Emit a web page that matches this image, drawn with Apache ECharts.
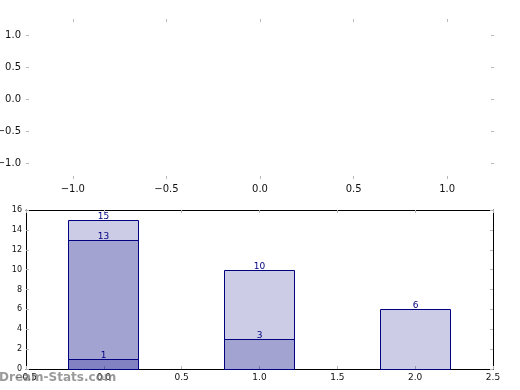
<!DOCTYPE html>
<html>
<head>
<meta charset="utf-8">
<script src="https://cdn.jsdelivr.net/npm/echarts@6/dist/echarts.min.js"></script>
<style>html,body{margin:0;padding:0;background:#fff;}#c{width:520px;height:390px;}</style>
</head>
<body>
<div id="c"></div>
<script>
// Top (empty) panel ticks
const topTicks = [-1.0, -0.5, 0.0, 0.5, 1.0];
// Bottom panel: bar positions and overlapping layers
const barPositions = [0, 1, 2];
const layer1 = [15, 10, 6];
const layer2 = [13, 3];
const layer3 = [1];
const bottomXTicks = [-0.5, 0.0, 0.5, 1.0, 1.5, 2.0, 2.5];
const bottomYTicks = [0, 2, 4, 6, 8, 10, 12, 14, 16];

const FONT = 'DejaVu Sans';
const tickGray = '#b8b8b8';
const fmt1 = v => (v < 0 ? '\u2212' : '') + Math.abs(v).toFixed(1);

function layerData(vals) {
  return vals.map((v, i) => [barPositions[i], v]);
}
function renderBar(params, api) {
  const x = api.value(0), v = api.value(1);
  const p0 = api.coord([x - 0.225, 0]);
  const p1 = api.coord([x + 0.225, v]);
  const left = Math.floor(p0[0]) + 0.5, right = Math.floor(p1[0]) + 0.5;
  const top = Math.round(p1[1]) + 0.5, bot = Math.round(p0[1]) + 0.5;
  return {
    type: 'group',
    children: [
      { type: 'rect', shape: { x: left, y: top, width: right - left, height: bot - top },
        style: { fill: 'rgba(0,0,128,0.2)', stroke: '#000080', lineWidth: 1 } },
      { type: 'text', style: { text: String(v), x: (left + right) / 2, y: top + 1,
        align: 'center', verticalAlign: 'bottom', fill: '#000080', fontSize: 9, fontFamily: FONT } }
    ]
  };
}

const chart = echarts.init(document.getElementById('c'), null, { renderer: 'canvas' });

const tickStyle = { show: true, inside: true, length: 3, lineStyle: { color: tickGray, width: 1 } };
const hiddenLine = { show: false, onZero: false };

chart.setOption({
  animation: false,
  backgroundColor: '#fff',
  grid: [
    { left: 26, top: 19, width: 468, height: 160, containLabel: false, outerBoundsMode: 'none' },
    { left: 26, top: 210, width: 467, height: 159, containLabel: false, outerBoundsMode: 'none' }
  ],
  xAxis: [
    { gridIndex: 0, type: 'value', position: 'bottom', min: -1.25, max: 1.25,
      axisLine: hiddenLine, splitLine: { show: false },
      axisTick: Object.assign({ customValues: topTicks }, tickStyle),
      axisLabel: { customValues: topTicks, formatter: fmt1, fontFamily: FONT, fontSize: 10, color: '#111', margin: 5 } },
    { gridIndex: 0, type: 'value', position: 'top', min: -1.25, max: 1.25,
      axisLine: hiddenLine, splitLine: { show: false },
      axisTick: Object.assign({ customValues: topTicks }, tickStyle),
      axisLabel: { show: false } },
    { gridIndex: 1, type: 'value', position: 'bottom', min: -0.5, max: 2.5, interval: 0.5,
      axisLine: { show: true, onZero: false, lineStyle: { color: '#000', width: 1 } }, splitLine: { show: false },
      axisTick: tickStyle,
      axisLabel: { formatter: fmt1, fontFamily: FONT, fontSize: 9, color: '#111', margin: 4 } },
    { gridIndex: 1, type: 'value', position: 'top', min: -0.5, max: 2.5, interval: 0.5,
      axisLine: { show: true, onZero: false, lineStyle: { color: '#000', width: 1 } }, splitLine: { show: false },
      axisTick: tickStyle, axisLabel: { show: false } }
  ],
  yAxis: [
    { gridIndex: 0, type: 'value', position: 'left', min: -1.25, max: 1.25,
      axisLine: hiddenLine, splitLine: { show: false },
      axisTick: Object.assign({ customValues: topTicks }, tickStyle),
      axisLabel: { customValues: topTicks, formatter: fmt1, fontFamily: FONT, fontSize: 10, color: '#111', margin: 5 } },
    { gridIndex: 0, type: 'value', position: 'right', min: -1.25, max: 1.25,
      axisLine: hiddenLine, splitLine: { show: false },
      axisTick: Object.assign({ customValues: topTicks }, tickStyle),
      axisLabel: { show: false } },
    { gridIndex: 1, type: 'value', position: 'left', min: 0, max: 16, interval: 2,
      axisLine: { show: true, onZero: false, lineStyle: { color: '#000', width: 1 } }, splitLine: { show: false },
      axisTick: tickStyle,
      axisLabel: { formatter: v => String(v), fontFamily: FONT, fontSize: 8, color: '#111', margin: 4 } },
    { gridIndex: 1, type: 'value', position: 'right', min: 0, max: 16, interval: 2,
      axisLine: { show: true, onZero: false, lineStyle: { color: '#000', width: 1 } }, splitLine: { show: false },
      axisTick: tickStyle, axisLabel: { show: false } }
  ],
  series: [
    { type: 'custom', xAxisIndex: 2, yAxisIndex: 2, data: layerData(layer1), renderItem: renderBar },
    { type: 'custom', xAxisIndex: 2, yAxisIndex: 2, data: layerData(layer2), renderItem: renderBar },
    { type: 'custom', xAxisIndex: 2, yAxisIndex: 2, data: layerData(layer3), renderItem: renderBar }
  ],
  graphic: [
    { type: 'text', left: -1, top: 372, z: 100,
      style: { text: 'Dream-Stats.com', fontSize: 12, fontWeight: 'bold', fontFamily: FONT, fill: 'rgba(120,120,120,0.75)' } }
  ]
});
</script>
</body>
</html>
